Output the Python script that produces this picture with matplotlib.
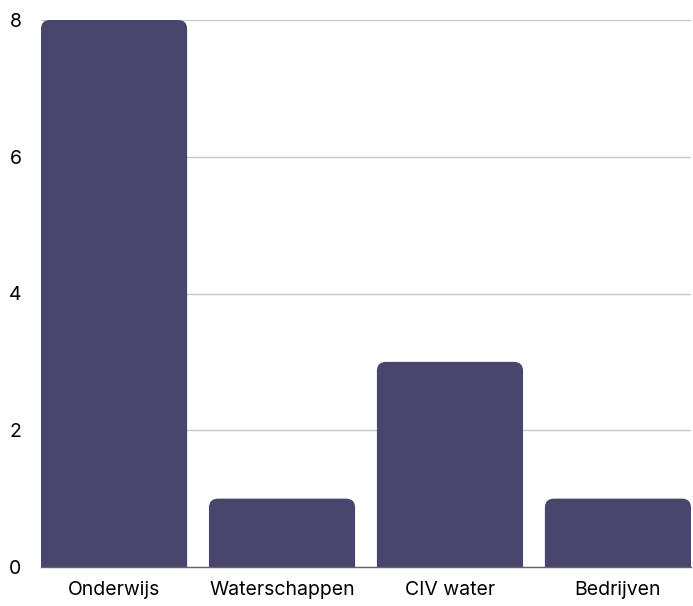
import numpy as np
import matplotlib
matplotlib.use("Agg")
import matplotlib.pyplot as plt
from matplotlib.path import Path
from matplotlib.patches import PathPatch

categories = ["Onderwijs", "Waterschappen", "CIV water", "Bedrijven"]
values = [8, 1, 3, 1]
yticks = [0, 2, 4, 6, 8]

BAR_COLOR = "#48466d"
BAR_WIDTH = 0.87

plt.rcParams['font.family'] = ['Inter', 'DejaVu Sans']

W, H = 693, 606
fig = plt.figure(figsize=(W / 100, H / 100), dpi=100)
ax = fig.add_axes([41 / W, 39 / H, 650 / W, 547 / H])

ax.set_xlim(-BAR_WIDTH / 2, len(categories) - 1 + BAR_WIDTH / 2)
ax.set_ylim(0, 8)

# px per data unit, to get round corners in pixels
px_x = 650 / (len(categories) - 1 + BAR_WIDTH)
px_y = 547 / 8.0
r_px = 9
rx, ry = r_px / px_x, r_px / px_y


def rounded_bar(x0, w, h):
    x1 = x0 + w
    verts = [(x0, 0), (x0, h - ry), (x0, h), (x0 + rx, h),
             (x1 - rx, h), (x1, h), (x1, h - ry), (x1, 0), (x0, 0)]
    codes = [Path.MOVETO, Path.LINETO, Path.CURVE3, Path.CURVE3,
             Path.LINETO, Path.CURVE3, Path.CURVE3, Path.LINETO, Path.CLOSEPOLY]
    return Path(verts, codes)


for i, v in enumerate(values):
    p = PathPatch(rounded_bar(i - BAR_WIDTH / 2, BAR_WIDTH, v),
                  facecolor=BAR_COLOR, edgecolor="none", zorder=3)
    ax.add_patch(p)

ax.set_yticks(yticks)
ax.set_yticklabels([str(t) for t in yticks], fontsize=14)
ax.tick_params(axis="y", length=0, pad=14)
ax.set_xticks(range(len(categories)))
ax.set_xticklabels(categories, fontsize=14)
ax.tick_params(axis="x", length=0, pad=10)

ax.grid(axis="y", color="#c8c8c8", linewidth=1, zorder=0)
ax.set_axisbelow(True)
for s in ["top", "right", "left"]:
    ax.spines[s].set_visible(False)
ax.spines["bottom"].set_color("#666666")
ax.spines["bottom"].set_linewidth(1)
ax.spines["bottom"].set_zorder(4)

fig.savefig("out.png", dpi=100)
